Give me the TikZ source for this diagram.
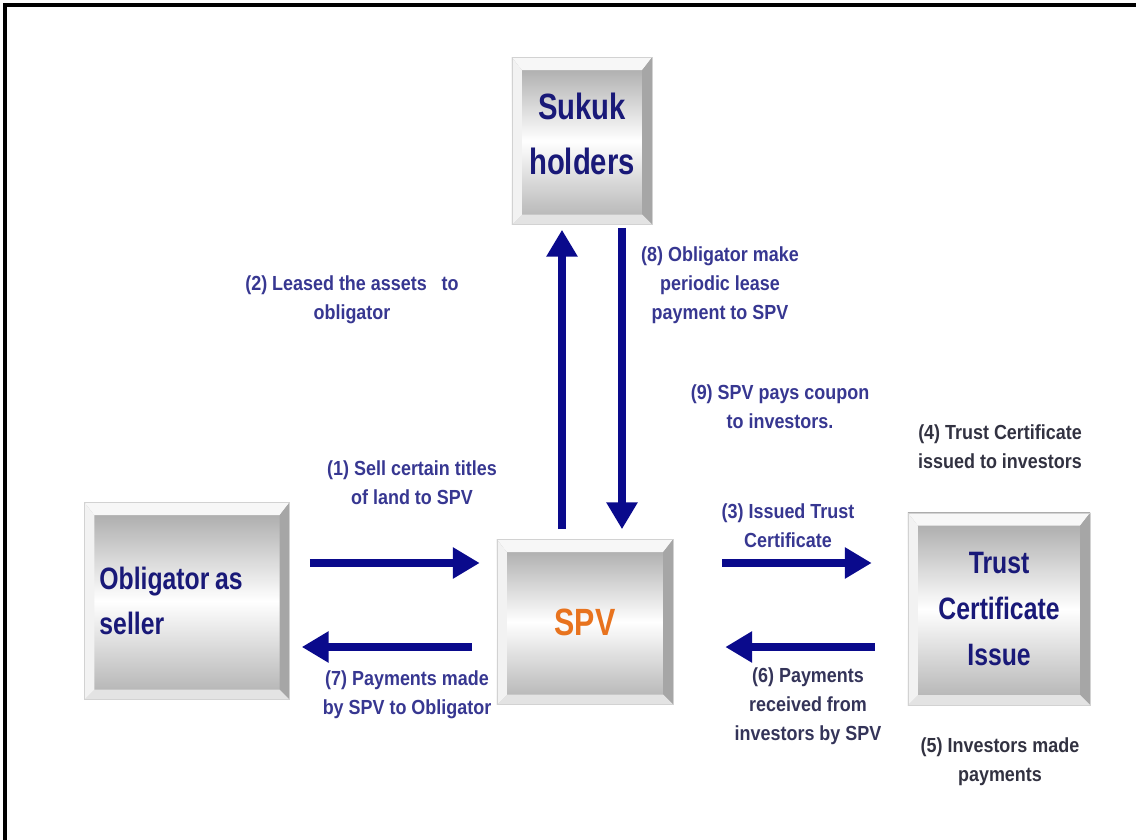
\documentclass[tikz,border=0pt]{standalone}
\usepackage{fontspec}
\setmainfont{Liberation Sans}[FakeStretch=0.8]
\newfontfamily\labfont{Liberation Sans}[FakeStretch=0.88]
\usepackage{tikz}
\usetikzlibrary{arrows.meta,shapes}

\definecolor{flowblue}{RGB}{10,10,140}
\definecolor{labblue}{RGB}{55,55,145}
\definecolor{labdark}{RGB}{50,50,65}
\definecolor{boxtext}{RGB}{25,25,120}
\definecolor{spvorange}{RGB}{232,115,30}

\begin{document}
\begin{tikzpicture}[x=0.025cm,y=-0.025cm,>={Triangle[length=19pt,width=21pt]},very thick]
  \tikzstyle{box}=[rectangle,inner sep=0pt,draw=gray!35,line width=0.4pt,
    top color=gray!72,bottom color=gray!62,middle color=white,text=boxtext,
    path picture={
      \path (path picture bounding box.north west) coordinate (nw)
            (path picture bounding box.south east) coordinate (se);
      % bevel round the face
      \fill[gray!6] (nw) -- (nw -| se) -- ([shift={(-7pt,-9pt)}]nw -| se) -- ([shift={(7pt,-9pt)}]nw) -- cycle;
      \fill[gray!70] (nw -| se) -- (se) -- ([shift={(-7pt,7pt)}]se) -- ([shift={(-7pt,-9pt)}]nw -| se) -- cycle;
      \fill[gray!22] (se) -- (se -| nw) -- ([shift={(7pt,7pt)}]se -| nw) -- ([shift={(-7pt,7pt)}]se) -- cycle;
      \fill[gray!10] (se -| nw) -- (nw) -- ([shift={(7pt,-9pt)}]nw) -- ([shift={(7pt,7pt)}]se -| nw) -- cycle;
    }]
  \tikzstyle{flow}=[->,draw=flowblue,line width=5.5pt]
  \tikzstyle{lab}=[align=center,text=labblue,font=\labfont\bfseries\fontsize{14.5}{20.5}\selectfont]

  \useasboundingbox (0,0) rectangle (1136,840);
  \draw[line width=2.2pt] (1136,5) -- (5,5) -- (5,840);

  \node[box,minimum width=3.5cm,minimum height=4.175cm,align=center,
        font=\bfseries\fontsize{26}{39}\selectfont] at (582,141) (sukuk) {Sukuk\\holders\\[-29pt]};
  \node[box,minimum width=4.4cm,minimum height=4.125cm,text=spvorange,
        font=\bfseries\fontsize{27}{33}\selectfont] at (585,622) (spv) {SPV};
  \node[box,minimum width=5.125cm,minimum height=4.925cm,align=left,text width=4.375cm,
        inner xsep=0.375cm,font=\bfseries\fontsize{22}{32}\selectfont] at (187,601) (oblig) {Obligator\hspace{4pt}as\\seller};
  \node[box,minimum width=4.55cm,minimum height=4.8cm,align=center,
        font=\bfseries\fontsize{22}{33}\selectfont] at (999,609) (trust) {Trust\\Certificate\\Issue};

  \coordinate (rowtop) at (0,563);
  \coordinate (rowbot) at (0,647);
  \coordinate (colup) at (562,0);
  \coordinate (coldown) at (622,0);

  \draw[flow,shorten <=0.5cm,shorten >=0.425cm] (oblig.east |- rowtop) -- (spv.west |- rowtop);
  \draw[flow,shorten <=0.625cm,shorten >=0.3cm] (spv.west |- rowbot) -- (oblig.east |- rowbot);
  \draw[flow,shorten <=1.225cm,shorten >=0.9cm] (spv.east |- rowtop) -- (trust.west |- rowtop);
  \draw[flow,shorten <=0.825cm,shorten >=1.3cm] (trust.west |- rowbot) -- (spv.east |- rowbot);
  \draw[flow,shorten <=0.25cm,shorten >=0.125cm] (spv.north -| colup) -- (sukuk.south -| colup);
  \draw[flow,shorten <=0.075cm,shorten >=0.25cm] (sukuk.south -| coldown) -- (spv.north -| coldown);

  \node[lab] at (352,300) (l2) {(2) Leased the assets\ \ \ to\\obligator};
  \node[lab] at (720,285) (l8) {(8) Obligator make\\periodic lease\\payment to SPV};
  \node[lab] at (780,407) (l9) {(9) SPV pays coupon\\to investors.};
  \node[lab,text=labdark] at (1000,447) (l4) {(4) Trust Certificate\\issued to investors};
  \node[lab] at (412,483) (l1) {(1) Sell certain titles\\of land to SPV};
  \node[lab] at (788,526) (l3) {(3) Issued Trust\\Certificate};
  \node[lab] at (407,695) (l7) {(7) Payments made\\by SPV to Obligator};
  \node[lab,text=labdark!70!labblue] at (808,706) (l6) {(6) Payments\\received from\\investors by SPV};
  \node[lab,text=labdark] at (1000,762) (l5) {(5) Investors made\\payments};
\end{tikzpicture}
\end{document}
